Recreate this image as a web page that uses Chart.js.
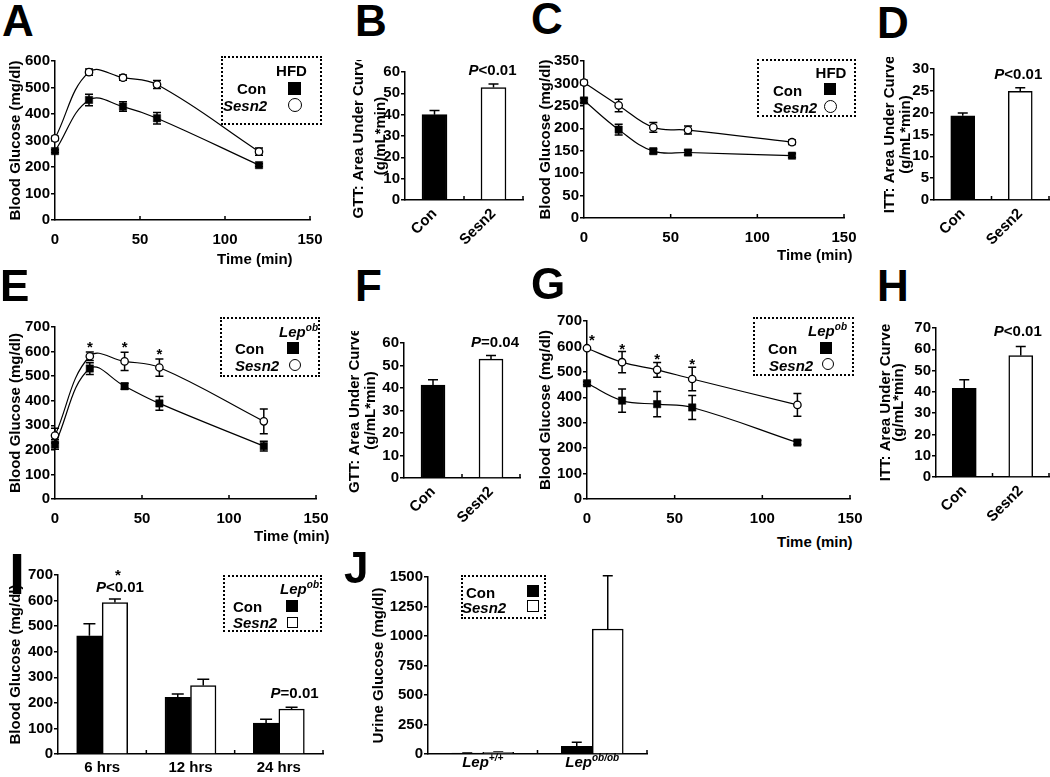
<!DOCTYPE html>
<html>
<head>
<meta charset="utf-8">
<script src="https://cdn.jsdelivr.net/npm/chart.js@4.4.1/dist/chart.umd.min.js"></script>
<style>
body { margin: 0; background: #fff; }
#fig { position: relative; width: 1050px; height: 777px; overflow: hidden; background: #fff;
       font-family: "Liberation Sans", Arial, sans-serif; font-weight: bold; color: #000; }
#fig canvas { position: absolute; }
.t { position: absolute; white-space: nowrap; font-size: 15px; line-height: 15px; }
.t sup { font-size: 10px; line-height: 0; vertical-align: 6px; }
.letter { position: absolute; font-size: 44px; line-height: 44px; }
.box { position: absolute; border: 2px dotted #000; box-sizing: border-box; }
.mk { position: absolute; box-sizing: border-box; }
</style>
</head>
<body>
<div id="fig"></div>
<script>
// ---- data ----
const timeMin = [0, 20, 40, 60, 120];

// A: HFD, GTT
const hfdGttCon = [260, 453, 428, 384, 207];
const hfdGttConSem = [5, 22, 18, 22, 5];
const hfdGttSesn2 = [308, 558, 537, 511, 258];
const hfdGttSesn2Sem = [8, 12, 10, 15, 14];

// B: HFD, GTT area under curve
const aucGroups = ['Con', 'Sesn2'];
const hfdGttAuc = [40.0, 52.7];
const hfdGttAucSem = [2.0, 1.7];

// C: HFD, ITT
const hfdIttCon = [262, 197, 149, 146, 139];
const hfdIttConSem = [5, 12, 5, 5, 4];
const hfdIttSesn2 = [302, 251, 202, 196, 169];
const hfdIttSesn2Sem = [5, 14, 11, 9, 5];

// D: HFD, ITT area under curve
const hfdIttAuc = [19.3, 24.9];
const hfdIttAucSem = [0.6, 0.8];

// E: Lep ob, GTT
const obGttCon = [222, 531, 459, 389, 215];
const obGttConSem = [20, 24, 12, 28, 20];
const obGttSesn2 = [258, 581, 560, 535, 316];
const obGttSesn2Sem = [30, 17, 37, 35, 50];

// F: Lep ob, GTT area under curve
const obGttAuc = [41.3, 52.8];
const obGttAucSem = [2.4, 1.7];

// G: Lep ob, ITT
const obIttCon = [455, 387, 373, 360, 222];
const obIttConSem = [6, 46, 50, 47, 8];
const obIttSesn2 = [593, 538, 508, 472, 370];
const obIttSesn2Sem = [4, 42, 29, 46, 45];

// H: Lep ob, ITT area under curve
const obIttAuc = [41.7, 57.1];
const obIttAucSem = [4.0, 4.2];

// I: fasting blood glucose
const fastHours = ['6 hrs', '12 hrs', '24 hrs'];
const fastCon = [462, 222, 121];
const fastConSem = [47, 13, 15];
const fastSesn2 = [592, 268, 176];
const fastSesn2Sem = [14, 24, 7];

// J: urine glucose
const urineGenotypes = ['Lep+/+', 'Lepob/ob'];
const urineGenoSup = ['+/+', 'ob/ob'];
const urineCon = [7, 65];
const urineConSem = [1, 34];
const urineSesn2 = [15, 1059];
const urineSesn2Sem = [2, 452];

// ---- setup ----
const FONT = '"Liberation Sans", Arial, sans-serif';
Chart.defaults.font.family = FONT;
Chart.defaults.font.size = 15;
Chart.defaults.font.weight = 'bold';
Chart.defaults.color = '#000';
Chart.defaults.animation = false;
Chart.defaults.plugins.legend.display = false;
Chart.defaults.plugins.tooltip.enabled = false;

const fig = document.getElementById('fig');

function drawRich(ctx, parts, cx, y, size, baseline) {
  const fontOf = p => (p[1].includes('i') ? 'italic ' : '') + 'bold ' +
    (p[1].includes('s') ? 10 : size) + 'px ' + FONT;
  let w = 0;
  parts.forEach(p => { ctx.font = fontOf(p); w += ctx.measureText(p[0]).width; });
  let x = cx - w / 2;
  ctx.textAlign = 'left';
  ctx.textBaseline = baseline;
  ctx.fillStyle = '#000';
  parts.forEach(p => {
    ctx.font = fontOf(p);
    ctx.fillText(p[0], x, p[1].includes('s') ? y - 6 : y);
    x += ctx.measureText(p[0]).width;
  });
}

// error bars + inward x ticks
const errorBars = {
  id: 'errorBars',
  beforeDatasetsDraw(chart) {
    const ctx = chart.ctx, ys = chart.scales.y, xs = chart.scales.x;
    const isBar = chart.config.type === 'bar';
    ctx.save();
    ctx.strokeStyle = '#000';
    ctx.lineWidth = 1.5;
    let pos = [];
    if (xs.type === 'linear') {
      pos = xs.ticks.filter(t => t.value > xs.min).map(t => xs.getPixelForValue(t.value));
    } else {
      const n = chart.data.labels.length;
      for (let k = 1; k <= n; k++) pos.push(xs.left + k * xs.width / n);
    }
    ctx.beginPath();
    pos.forEach(p => { ctx.moveTo(p, xs.top); ctx.lineTo(p, xs.top - 4); });
    ctx.stroke();
    chart.data.datasets.forEach((ds, di) => {
      if (!ds.errors) return;
      const meta = chart.getDatasetMeta(di);
      const cap = ds.capW || 4;
      meta.data.forEach((el, i) => {
        const d = ds.data[i];
        const v = typeof d === 'object' ? d.y : d;
        const e = ds.errors[i];
        const t = ys.getPixelForValue(v + e);
        const b = ys.getPixelForValue(isBar ? v : v - e);
        ctx.beginPath();
        ctx.moveTo(el.x, t); ctx.lineTo(el.x, b);
        ctx.moveTo(el.x - cap, t); ctx.lineTo(el.x + cap, t);
        if (!isBar) { ctx.moveTo(el.x - cap, b); ctx.lineTo(el.x + cap, b); }
        ctx.stroke();
      });
    });
    ctx.restore();
  }
};

// P values and asterisks placed above error bars
function notes(items) {
  return {
    id: 'notes',
    afterDatasetsDraw(chart) {
      const ctx = chart.ctx, ys = chart.scales.y;
      ctx.save();
      items.forEach(n => {
        const ds = chart.data.datasets[n.ds];
        const el = chart.getDatasetMeta(n.ds).data[n.i];
        const d = ds.data[n.i];
        const v = typeof d === 'object' ? d.y : d;
        const y = ys.getPixelForValue(v + ds.errors[n.i]) + n.dy;
        drawRich(ctx, n.parts, el.x + (n.dx || 0), y, 15, n.base || 'middle');
      });
      ctx.restore();
    }
  };
}

// two-line rotated y title, each line at its own page x
function twoLineTitle(g, lines) {
  return {
    id: 'twoLineTitle',
    afterDraw(chart) {
      const ctx = chart.ctx, a = chart.chartArea;
      ctx.save();
      ctx.font = 'bold 15px ' + FONT;
      ctx.fillStyle = '#000';
      ctx.textAlign = 'center';
      ctx.textBaseline = 'middle';
      lines.forEach(([text, x]) => {
        ctx.save();
        ctx.translate(x - g.cl, (a.top + a.bottom) / 2);
        ctx.rotate(-Math.PI / 2);
        ctx.fillText(text, 0, 0);
        ctx.restore();
      });
      ctx.restore();
    }
  };
}

function panel(g, config) {
  const c = document.createElement('canvas');
  const W = g.cr - g.cl, H = g.cb - g.ct;
  c.width = W; c.height = H;
  c.style.left = g.cl + 'px'; c.style.top = g.ct + 'px';
  c.style.width = W + 'px'; c.style.height = H + 'px';
  fig.appendChild(c);
  const zero = s => { s.paddingLeft = 0; s.paddingRight = 0; s.paddingTop = 0; s.paddingBottom = 0; };
  const o = config.options;
  o.responsive = false;
  o.maintainAspectRatio = false;
  o.layout = { padding: { left: 0, top: g.t - g.ct, right: g.cr - g.r, bottom: 0 } };
  o.scales.x.afterFit = s => { s.height = g.cb - g.b; zero(s); };
  o.scales.y.afterFit = s => { s.width = g.l - g.cl; zero(s); };
  return new Chart(c, config);
}

function yAxis(g, max, step, title, titleX) {
  return {
    min: 0, max: max,
    ticks: { stepSize: step, padding: 1, callback: v => String(v) },
    grid: { drawOnChartArea: false, drawTicks: true, tickLength: 4, color: '#000', lineWidth: 1.5 },
    border: { display: true, color: '#000', width: 1.5 },
    title: { display: !!title, text: title || '', font: { size: 15, weight: 'bold', lineHeight: 1.2 },
             padding: { top: (titleX || 0) - g.cl - 9, bottom: 0 } }
  };
}
const xLinear = {
  type: 'linear', min: 0, max: 150,
  ticks: { stepSize: 50, padding: 10.5 },
  grid: { drawOnChartArea: false, drawTicks: false },
  border: { display: true, color: '#000', width: 1.5 }
};
function xCat(rot, pad, show) {
  return {
    type: 'category', offset: true,
    ticks: { display: show !== false, minRotation: rot, maxRotation: rot, padding: pad, autoSkip: false },
    grid: { drawOnChartArea: false, drawTicks: false },
    border: { display: true, color: '#000', width: 1.5 }
  };
}

function lineDs(ys, errs, open) {
  return {
    data: timeMin.map((x, i) => ({ x: x, y: ys[i] })),
    errors: errs, capW: 4,
    borderColor: '#000', borderWidth: 1.2, tension: 0.4, fill: false, clip: false,
    pointStyle: open ? 'circle' : 'rect',
    pointRadius: open ? 3.7 : 5.2,
    pointBackgroundColor: open ? '#fff' : '#000',
    pointBorderColor: '#000',
    pointBorderWidth: open ? 1.3 : 0.5
  };
}

function lineChart(g, con, conSem, s2, s2Sem, yMax, yStep, titleX, extra) {
  return panel(g, {
    type: 'line',
    data: { datasets: [lineDs(con, conSem, false), lineDs(s2, s2Sem, true)] },
    options: { scales: { x: Object.assign({}, xLinear), y: yAxis(g, yMax, yStep, 'Blood Glucose (mg/dl)', titleX) } },
    plugins: [errorBars, notes(extra || [])]
  });
}

function aucChart(g, vals, sems, yMax, yStep, titleLines, note, thick) {
  return panel(g, {
    type: 'bar',
    data: { labels: aucGroups, datasets: [{
      data: vals, errors: sems, capW: 5,
      backgroundColor: ['#000', '#fff'], borderColor: '#000', borderWidth: 1.5, barThickness: thick
    }] },
    options: { scales: { x: xCat(45, 5), y: yAxis(g, yMax, yStep) } },
    plugins: [errorBars, notes([note]), twoLineTitle(g, titleLines)]
  });
}

const P = (rest) => [['P', 'i'], [rest, '']];
const star = [['*', '']];

// A
const gA = { l: 55, t: 61, r: 310, b: 220, cl: 4, ct: 49, cr: 324, cb: 262 };
lineChart(gA, hfdGttCon, hfdGttConSem, hfdGttSesn2, hfdGttSesn2Sem, 600, 100, 15.5);

// B
const gB = { l: 405, t: 72, r: 523, b: 200, cl: 345, ct: 60, cr: 530, cb: 252 };
aucChart(gB, hfdGttAuc, hfdGttAucSem, 60, 10, [['GTT: Area Under Curve', 358.5], ['(g/mL*min)', 381]],
  { ds: 0, i: 1, parts: P('<0.01'), dy: -13, dx: -1 }, 25);

// C
const gC = { l: 584, t: 61, r: 844, b: 218, cl: 535, ct: 49, cr: 858, cb: 262 };
lineChart(gC, hfdIttCon, hfdIttConSem, hfdIttSesn2, hfdIttSesn2Sem, 350, 50, 546);

// D
const gD = { l: 934, t: 69, r: 1049, b: 200, cl: 878, ct: 57, cr: 1050, cb: 252 };
aucChart(gD, hfdIttAuc, hfdIttAucSem, 30, 5, [['ITT: Area Under Curve', 890], ['(g/mL*min)', 905.5]],
  { ds: 0, i: 1, parts: P('<0.01'), dy: -13, dx: -2 }, 24);

// E
const gE = { l: 55, t: 327, r: 316, b: 499, cl: 4, ct: 315, cr: 332, cb: 528 };
lineChart(gE, obGttCon, obGttConSem, obGttSesn2, obGttSesn2Sem, 700, 100, 15.5, [
  { ds: 1, i: 1, parts: star, dy: 0, base: 'alphabetic' },
  { ds: 1, i: 2, parts: star, dy: 0, base: 'alphabetic' },
  { ds: 1, i: 3, parts: star, dy: 0, base: 'alphabetic' }
]);

// F
const gF = { l: 404, t: 343, r: 520, b: 478, cl: 343, ct: 331, cr: 527, cb: 525 };
aucChart(gF, obGttAuc, obGttAucSem, 60, 10, [['GTT: Area Under Curve', 355], ['(g/mL*min)', 371]],
  { ds: 0, i: 1, parts: P('=0.04'), dy: -13, dx: 4 }, 24);

// G
const gG = { l: 587, t: 321, r: 850, b: 499, cl: 535, ct: 309, cr: 866, cb: 528 };
lineChart(gG, obIttCon, obIttConSem, obIttSesn2, obIttSesn2Sem, 700, 100, 546, [
  { ds: 1, i: 0, parts: star, dy: -2, dx: 5, base: 'alphabetic' },
  { ds: 1, i: 1, parts: star, dy: 2, base: 'alphabetic' },
  { ds: 1, i: 2, parts: star, dy: 2, base: 'alphabetic' },
  { ds: 1, i: 3, parts: star, dy: 2, base: 'alphabetic' }
]);

// H
const gH = { l: 936, t: 328, r: 1049, b: 477, cl: 874, ct: 316, cr: 1050, cb: 525 };
aucChart(gH, obIttAuc, obIttAucSem, 70, 10, [['ITT: Area Under Curve', 885.5], ['(g/mL*min)', 899]],
  { ds: 0, i: 1, parts: P('<0.01'), dy: -14.5, dx: -3 }, 24);

// I
const gI = { l: 58, t: 575, r: 323, b: 754, cl: 4, ct: 563, cr: 337, cb: 777 };
panel(gI, {
  type: 'bar',
  data: { labels: fastHours, datasets: [
    { data: fastCon, errors: fastConSem, capW: 6, backgroundColor: '#000', borderColor: '#000', borderWidth: 1.5, barThickness: 25.5 },
    { data: fastSesn2, errors: fastSesn2Sem, capW: 6, backgroundColor: '#fff', borderColor: '#000', borderWidth: 1.5, barThickness: 25.5 }
  ] },
  options: { scales: { x: xCat(0, 5), y: yAxis(gI, 700, 100, 'Blood Glucose (mg/dl)', 15.5) } },
  plugins: [errorBars, notes([
    { ds: 1, i: 0, parts: star, dy: -19, dx: 3, base: 'alphabetic' },
    { ds: 1, i: 0, parts: P('<0.01'), dy: -11, dx: 5 },
    { ds: 1, i: 2, parts: P('=0.01'), dy: -13, dx: 3 }
  ])]
});

// J
const gJ = { l: 428, t: 577, r: 647, b: 754, cl: 368, ct: 565, cr: 657, cb: 777 };
const genoLabels = {
  id: 'genoLabels',
  afterDraw(chart) {
    const xs = chart.scales.x, ctx = chart.ctx;
    ctx.save();
    urineGenoSup.forEach((s, i) => {
      drawRich(ctx, [['Lep', 'i'], [s, 'is']], xs.getPixelForValue(i), xs.top + 13, 15, 'alphabetic');
    });
    ctx.restore();
  }
};
panel(gJ, {
  type: 'bar',
  data: { labels: urineGenotypes, datasets: [
    { data: urineCon, errors: urineConSem, capW: 5, backgroundColor: '#000', borderColor: '#000', borderWidth: 1.5, barThickness: 31 },
    { data: urineSesn2, errors: urineSesn2Sem, capW: 5, backgroundColor: '#fff', borderColor: '#000', borderWidth: 1.5, barThickness: 31 }
  ] },
  options: { scales: { x: xCat(0, 5, false), y: yAxis(gJ, 1500, 250, 'Urine Glucose (mg/dl)', 379) } },
  plugins: [errorBars, genoLabels]
});

// ---- html text: panel letters, time labels, legends ----
function txt(html, x, y, anchor) {
  const d = document.createElement('div');
  d.className = 't';
  d.innerHTML = html;
  d.style.left = x + 'px';
  d.style.top = y + 'px';
  const tx = anchor === 'c' ? '-50%' : anchor === 'r' ? '-100%' : '0';
  d.style.transform = 'translate(' + tx + ',-50%)';
  fig.appendChild(d);
}
function letter(ch, x, y, size) {
  const d = document.createElement('div');
  d.className = 'letter';
  d.textContent = ch;
  d.style.left = x + 'px';
  d.style.top = y + 'px';
  if (size) { d.style.fontSize = size + 'px'; d.style.lineHeight = size + 'px'; }
  fig.appendChild(d);
}
function box(l, t, r, b) {
  const d = document.createElement('div');
  d.className = 'box';
  d.style.left = l + 'px'; d.style.top = t + 'px';
  d.style.width = (r - l) + 'px'; d.style.height = (b - t) + 'px';
  fig.appendChild(d);
}
function marker(kind, cx, cy, s) {
  const d = document.createElement('div');
  d.className = 'mk';
  d.style.left = (cx - s / 2) + 'px'; d.style.top = (cy - s / 2) + 'px';
  d.style.width = s + 'px'; d.style.height = s + 'px';
  if (kind === 'sq') d.style.background = '#000';
  else { d.style.border = '1.5px solid #000'; d.style.background = '#fff'; }
  if (kind === 'ci') d.style.borderRadius = '50%';
  fig.appendChild(d);
}

letter('A', 2, -1); letter('B', 355, -1); letter('C', 531, -3); letter('D', 877, 1);
letter('E', 0, 264); letter('F', 355, 264); letter('G', 531, 262); letter('H', 877, 264);
letter('I', 9, 545, 58); letter('J', 344, 546);

txt('Time (min)', 217, 258); txt('Time (min)', 777, 254);
txt('Time (min)', 254, 535); txt('Time (min)', 777, 541);

const S2 = '<i>Sesn2</i>', LEP = '<i>Lep<sup>ob</sup></i>';
box(221, 56, 322, 125); txt('HFD', 291.5, 70, 'c'); txt('Con', 237, 88); marker('sq', 294, 88.5, 13);
txt(S2, 223, 105); marker('ci', 295, 105, 14);

box(757, 59, 856, 117); txt('HFD', 831, 72, 'c'); txt('Con', 773, 90); marker('sq', 830, 89, 12);
txt(S2, 773, 107); marker('ci', 830, 106.5, 13);

box(220, 317, 320, 377); txt(LEP, 318, 331, 'r'); txt('Con', 235, 348); marker('sq', 293, 348, 12);
txt(S2, 235, 364.5); marker('ci', 294.5, 364.5, 12);

box(753, 317, 854, 376); txt(LEP, 847, 330, 'r'); txt('Con', 768, 348); marker('sq', 825.5, 348, 12);
txt(S2, 769, 365); marker('ci', 827.5, 363.5, 12);

box(223, 575, 322, 632); txt(LEP, 319, 588, 'r'); txt('Con', 233, 606); marker('sq', 292, 605.5, 12);
txt(S2, 233, 622); marker('osq', 292, 622, 11);

box(461, 575, 546, 619); txt('Con', 466, 592); marker('sq', 533, 590.5, 12);
txt(S2, 462, 607); marker('osq', 533, 606, 12);
</script>
</body>
</html>
